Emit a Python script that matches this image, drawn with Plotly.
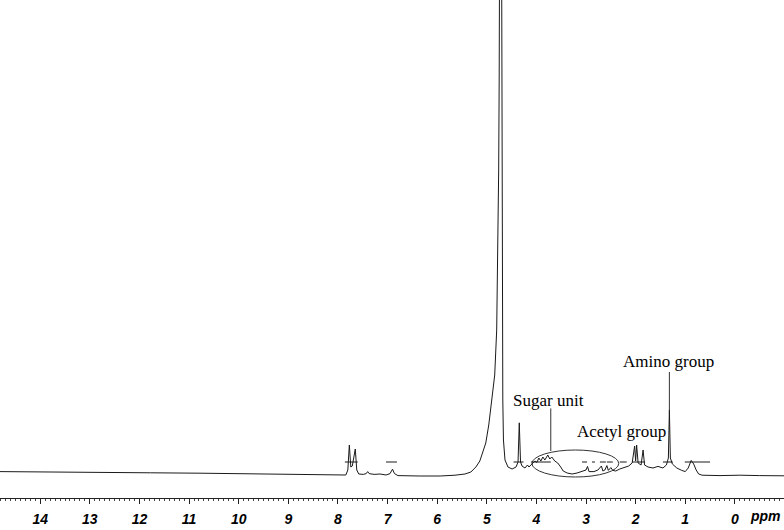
import plotly.graph_objects as go

# ---- spectrum (chemical shift in ppm, relative intensity) ----
ppm = [14.81, 13.80, 12.79, 11.78, 10.78, 9.77, 8.76, 7.96, 7.84, 7.80, 7.77, 7.74, 7.71,
       7.65, 7.62, 7.58, 7.49, 7.43, 7.40, 7.37, 7.27, 7.15, 7.03, 6.95, 6.90, 6.86, 6.79,
       6.35, 5.94, 5.64, 5.44, 5.32, 5.22, 5.14, 5.08, 5.02, 4.96, 4.90, 4.84, 4.80, 4.78,
       4.76, 4.75, 4.72, 4.693, 4.686, 4.677, 4.664, 4.633, 4.573, 4.49, 4.41, 4.37, 4.345,
       4.32, 4.29, 4.23, 4.18, 4.15, 4.09, 4.03, 3.99, 3.95, 3.91, 3.87, 3.83, 3.77, 3.73,
       3.69, 3.63, 3.57, 3.51, 3.46, 3.38, 3.28, 3.18, 3.08, 3.00, 2.97, 2.94, 2.84, 2.76,
       2.69, 2.66, 2.62, 2.58, 2.55, 2.50, 2.46, 2.40, 2.32, 2.22, 2.14, 2.07, 2.02, 2.00,
       1.98, 1.95, 1.89, 1.85, 1.82, 1.75, 1.65, 1.55, 1.45, 1.38, 1.34, 1.32, 1.30, 1.26,
       1.17, 1.07, 1.00, 0.94, 0.88, 0.83, 0.78, 0.73, 0.66, 0.30, -0.10, -0.50, -0.99]
intensity = [6.6, 6.55, 6.4, 6.3, 6.2, 6.0, 5.8, 5.7, 5.75, 7.0, 13.25, 7.75, 8.0,
             12.25, 7.0, 6.0, 5.9, 6.1, 6.6, 6.1, 5.9, 6.0, 5.75, 6.1, 7.2, 6.1, 5.6,
             5.5, 5.5, 5.7, 6.0, 6.5, 7.75, 9.25, 11.25, 13.75, 18.25, 24.0, 30.75, 42.0, 57.0,
             82.0, 104.5, 224.5, 99.5, 49.5, 24.5, 14.5, 9.5, 7.75, 7.25, 7.75, 9.0, 18.8,
             9.0, 8.0, 7.5, 8.25, 7.75, 8.5, 9.25, 8.9, 10.0, 9.25, 10.25, 9.5, 10.75, 9.75,
             10.25, 9.25, 8.75, 7.75, 6.75, 6.25, 6.0, 6.25, 6.75, 7.0, 7.9, 6.6, 6.6, 7.0,
             8.0, 6.75, 7.0, 8.1, 6.9, 7.6, 6.9, 6.75, 7.25, 7.6, 8.0, 8.75, 13.0, 9.25,
             13.25, 8.75, 8.25, 12.0, 8.25, 7.75, 7.5, 7.9, 7.5, 8.25, 10.0, 22.0, 10.0, 8.5,
             7.5, 6.9, 6.6, 7.5, 9.4, 8.5, 7.0, 6.0, 5.7, 5.6, 5.7, 5.6, 5.55]

# ---- integral marks (start ppm, end ppm) at a common level ----
integral_start = [7.86, 7.03, 4.46, 4.11, 3.08, 2.88, 2.72, 2.58, 2.32, 2.07, 1.45, 1.01]
integral_end = [7.60, 6.81, 4.26, 3.71, 2.98, 2.82, 2.60, 2.46, 2.18, 1.81, 1.25, 0.50]
integral_level = 9.0

# ---- axis ----
tick_values = [14, 13, 12, 11, 10, 9, 8, 7, 6, 5, 4, 3, 2, 1, 0]
tick_labels = ["14", "13", "12", "11", "10", "9", "8", "7", "6", "5", "4", "3", "2", "1", "0"]
x_range = [14.81, -0.99]
y_range = [0, 124.5]

# ---- labels ----
label_text = ["Sugar unit", "Acetyl group", "Amino group"]
label_ppm = [3.75, 2.28, 1.33]
label_int = [24.5, 16.75, 34.25]

line_col = "#1a1a1a"

fig = go.Figure()
fig.add_trace(go.Scatter(x=ppm, y=intensity, mode="lines",
                         line=dict(color=line_col, width=1), hoverinfo="skip"))

ix, iy = [], []
for s, e in zip(integral_start, integral_end):
    ix += [s, e, None]
    iy += [integral_level, integral_level, None]
fig.add_trace(go.Scatter(x=ix, y=iy, mode="lines",
                         line=dict(color=line_col, width=1), hoverinfo="skip"))

# ellipse around sugar region
fig.add_shape(type="circle", xref="x", yref="y", x0=4.09, x1=2.34, y0=5.25, y1=12.0,
              line=dict(color="#333333", width=1))
# leader lines
fig.add_shape(type="line", xref="x", yref="y", x0=3.71, x1=3.71, y0=22.4, y1=11.75,
              line=dict(color="#333333", width=1))
fig.add_shape(type="line", xref="x", yref="y", x0=1.32, x1=1.32, y0=31.5, y1=22.0,
              line=dict(color="#333333", width=1))

for t, xp, yp in zip(label_text, label_ppm, label_int):
    fig.add_annotation(x=xp, y=yp, xref="x", yref="y", text=t, showarrow=False,
                       font=dict(family="Liberation Serif, Times New Roman, serif",
                                 size=17, color="black"))

fig.add_annotation(x=-0.62, y=0, xref="x", yref="paper", text="ppm", showarrow=False,
                   yanchor="middle", yshift=-18,
                   font=dict(family="Liberation Sans, Arial, sans-serif", size=14,
                             color="black", weight="bold", style="italic"))

fig.update_layout(
    width=784, height=530,
    margin=dict(l=0, r=0, t=0, b=32),
    paper_bgcolor="white", plot_bgcolor="white",
    showlegend=False,
    hovermode=False,
    xaxis=dict(range=x_range, showgrid=False, zeroline=False,
               showline=True, linecolor="#222222", linewidth=1,
               ticks="outside", ticklen=5, tickwidth=1, tickcolor="#222222",
               tickvals=tick_values, ticktext=tick_labels,
               ticklabelstandoff=3,
               tickfont=dict(family="Liberation Sans, Arial, sans-serif", size=14,
                             color="black", weight="bold", style="italic"),
               minor=dict(dtick=0.1, tick0=0, ticks="outside", ticklen=2,
                          tickcolor="#444444", tickwidth=1, showgrid=False)),
    yaxis=dict(range=y_range, visible=False, showgrid=False, zeroline=False),
)

fig.write_html("out.html",
               config={"displayModeBar": False, "staticPlot": True},
               post_script="document.body.style.margin='0';"
                           "document.body.style.overflow='hidden';")
